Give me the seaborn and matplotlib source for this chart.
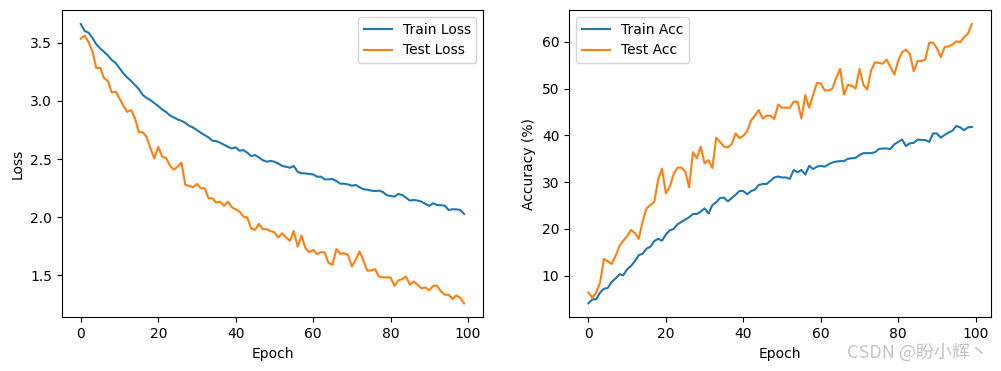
import matplotlib
matplotlib.use("Agg")
import matplotlib.pyplot as plt
import seaborn as sns
import numpy as np

epochs = list(range(100))

train_loss = [
    3.66, 3.60, 3.585, 3.54, 3.485, 3.45, 3.42, 3.39, 3.35, 3.325,
    3.28, 3.235, 3.20, 3.17, 3.135, 3.10, 3.05, 3.025, 3.005, 2.98,
    2.955, 2.925, 2.905, 2.875, 2.858, 2.84, 2.828, 2.81, 2.785, 2.77,
    2.748, 2.725, 2.705, 2.685, 2.657, 2.654, 2.64, 2.622, 2.605, 2.59,
    2.60, 2.571, 2.577, 2.554, 2.525, 2.534, 2.514, 2.49, 2.477, 2.483,
    2.477, 2.462, 2.44, 2.434, 2.425, 2.44, 2.391, 2.377, 2.377, 2.371,
    2.368, 2.348, 2.348, 2.325, 2.325, 2.328, 2.311, 2.288, 2.288, 2.282,
    2.271, 2.277, 2.257, 2.24, 2.236, 2.228, 2.225, 2.228, 2.217, 2.191,
    2.182, 2.177, 2.20, 2.191, 2.168, 2.143, 2.148, 2.143, 2.134, 2.114,
    2.097, 2.12, 2.105, 2.103, 2.10, 2.062, 2.068, 2.068, 2.062, 2.028,
]

test_loss = [
    3.534, 3.56, 3.505, 3.425, 3.28, 3.285, 3.195, 3.17, 3.07, 3.08,
    3.02, 2.955, 2.905, 2.92, 2.85, 2.73, 2.73, 2.69, 2.59, 2.505,
    2.605, 2.52, 2.51, 2.445, 2.408, 2.434, 2.469, 2.277, 2.268, 2.257,
    2.286, 2.248, 2.248, 2.162, 2.162, 2.125, 2.134, 2.097, 2.134, 2.085,
    2.068, 2.048, 2.005, 1.997, 1.905, 1.891, 1.943, 1.897, 1.897, 1.88,
    1.871, 1.826, 1.863, 1.826, 1.797, 1.883, 1.748, 1.843, 1.734, 1.70,
    1.72, 1.683, 1.70, 1.697, 1.606, 1.591, 1.726, 1.686, 1.691, 1.677,
    1.577, 1.634, 1.706, 1.626, 1.54, 1.543, 1.554, 1.491, 1.483, 1.483,
    1.483, 1.411, 1.457, 1.468, 1.491, 1.42, 1.448, 1.42, 1.388, 1.397,
    1.371, 1.411, 1.411, 1.363, 1.334, 1.334, 1.297, 1.328, 1.308, 1.26,
]

train_acc = [
    4.1, 4.96, 4.96, 6.4, 7.2, 7.4, 8.7, 9.4, 10.3, 10.1,
    11.4, 12.1, 13.1, 14.4, 14.7, 15.8, 16.2, 17.4, 17.9, 17.5,
    18.8, 19.7, 20.0, 21.0, 21.5, 22.0, 22.5, 23.2, 23.2, 23.7,
    24.4, 23.3, 25.1, 25.7, 26.6, 26.7, 25.9, 26.6, 27.3, 28.1,
    28.1, 27.4, 28.1, 28.4, 29.4, 29.6, 29.6, 30.3, 31.0, 31.2,
    31.0, 31.0, 30.7, 32.6, 32.1, 32.6, 31.6, 33.5, 32.8, 33.3,
    33.5, 33.3, 33.8, 34.2, 34.4, 34.5, 34.5, 35.0, 35.1, 35.2,
    35.8, 36.2, 36.2, 36.2, 36.4, 37.1, 37.2, 37.2, 37.1, 38.1,
    38.6, 39.1, 37.7, 38.3, 38.4, 39.1, 39.0, 39.0, 38.6, 40.4,
    40.4, 39.5, 40.1, 40.6, 41.0, 42.0, 41.7, 41.1, 41.7, 41.8,
]

test_acc = [
    6.4, 5.3, 6.4, 8.5, 13.6, 13.1, 12.5, 14.2, 16.3, 17.5,
    18.4, 19.8, 19.1, 17.9, 21.6, 24.4, 25.1, 25.8, 30.5, 32.9,
    27.6, 29.0, 31.7, 33.1, 33.1, 32.3, 28.9, 36.4, 35.1, 37.6,
    34.0, 34.7, 33.0, 39.5, 38.6, 37.6, 37.4, 38.1, 40.4, 39.4,
    39.9, 40.9, 43.2, 44.2, 45.4, 43.6, 44.2, 44.2, 43.5, 46.6,
    45.9, 45.9, 45.9, 47.2, 47.2, 43.6, 48.6, 45.9, 48.6, 51.2,
    51.1, 49.6, 49.6, 50.0, 52.3, 54.2, 48.7, 50.8, 50.6, 50.0,
    54.2, 50.8, 49.8, 53.9, 55.6, 55.5, 55.3, 56.2, 54.6, 53.0,
    56.0, 57.8, 58.3, 57.4, 53.7, 55.9, 55.9, 56.2, 59.8, 59.8,
    58.6, 56.7, 58.9, 59.0, 59.4, 60.1, 59.9, 61.0, 61.7, 63.8,
]

blue = "#1f77b4"
orange = "#ff7f0e"

fig = plt.figure(figsize=(10.01, 3.71), dpi=100)
ax1 = fig.add_axes([0.0616, 0.1447, 0.4212, 0.8283])
ax2 = fig.add_axes([0.5687, 0.1447, 0.4213, 0.8283])

sns.lineplot(x=epochs, y=train_loss, ax=ax1, color=blue, label="Train Loss")
sns.lineplot(x=epochs, y=test_loss, ax=ax1, color=orange, label="Test Loss")
ax1.set_xlabel("Epoch")
ax1.set_ylabel("Loss")
ax1.set_xticks([0, 20, 40, 60, 80, 100])
ax1.legend(loc="upper right")

sns.lineplot(x=epochs, y=train_acc, ax=ax2, color=blue, label="Train Acc")
sns.lineplot(x=epochs, y=test_acc, ax=ax2, color=orange, label="Test Acc")
ax2.set_xlabel("Epoch")
ax2.set_ylabel("Accuracy (%)")
ax2.set_xticks([0, 20, 40, 60, 80, 100])
ax2.legend(loc="upper left")

fig.text(0.846, 0.05, "CSDN @盼小辉丶", ha="left", va="center", fontsize=13,
         color="#c4c4c4", family=["Noto Sans CJK SC", "DejaVu Sans"])

fig.savefig("out.png", dpi=100)
